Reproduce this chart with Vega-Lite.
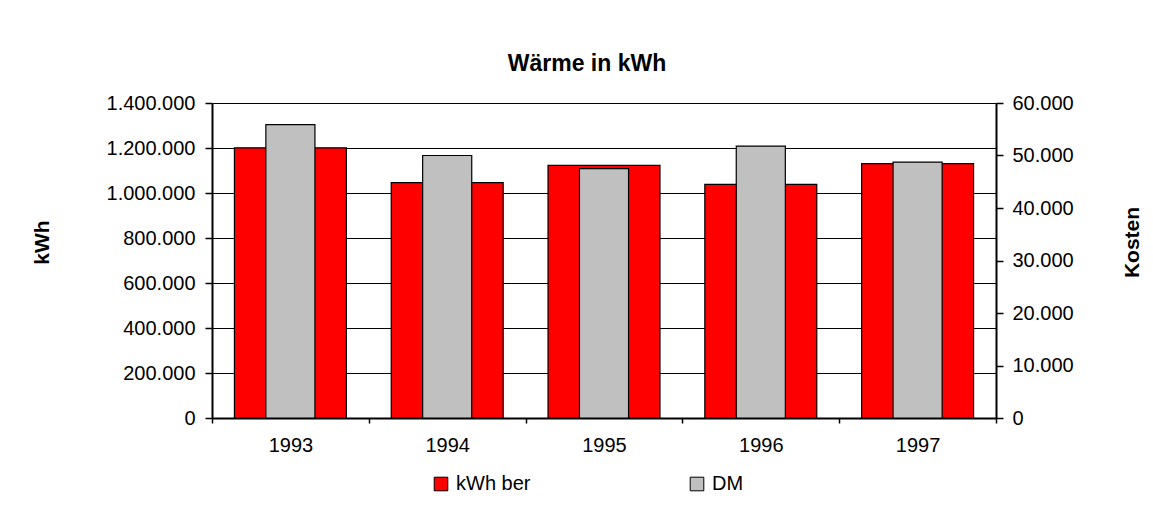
{
  "$schema": "https://vega.github.io/schema/vega-lite/v6.json",
  "width": 784,
  "height": 315,
  "autosize": "none",
  "padding": {"left": 212, "top": 103, "right": 157, "bottom": 96},
  "background": "white",
  "config": {
    "locale": {"number": {"decimal": ",", "thousands": ".", "grouping": [3], "currency": ["", ""]}},
    "font": "Liberation Sans",
    "view": {"stroke": null},
    "axis": {
      "labelFont": "Liberation Sans", "labelFontSize": 20, "labelColor": "#000",
      "titleFont": "Liberation Sans", "titleFontSize": 21, "titleFontWeight": "bold", "titleColor": "#000",
      "domainColor": "#000", "domainWidth": 2, "tickColor": "#000", "tickWidth": 1.5,
      "gridColor": "#000", "gridOpacity": 1, "gridWidth": 1
    }
  },
  "title": {
    "text": "Wärme in kWh", "font": "Liberation Sans", "fontSize": 23, "fontWeight": "bold",
    "color": "#000", "anchor": "middle", "dx": -17, "offset": 17
  },
  "data": {
    "values": [
      {"year": "1993", "series": "kWh ber", "value": 1201000},
      {"year": "1994", "series": "kWh ber", "value": 1046000},
      {"year": "1995", "series": "kWh ber", "value": 1123000},
      {"year": "1996", "series": "kWh ber", "value": 1038500},
      {"year": "1997", "series": "kWh ber", "value": 1130500},
      {"year": "1993", "series": "DM", "value": 55900},
      {"year": "1994", "series": "DM", "value": 50000},
      {"year": "1995", "series": "DM", "value": 47500},
      {"year": "1996", "series": "DM", "value": 51800},
      {"year": "1997", "series": "DM", "value": 48750}
    ]
  },
  "encoding": {
    "x": {
      "field": "year", "type": "ordinal",
      "scale": {"paddingInner": 0, "paddingOuter": 0},
      "axis": {"title": null, "labelAngle": 0, "tickBand": "extent", "tickSize": 5, "labelPadding": 12}
    },
    "color": {
      "field": "series", "type": "nominal",
      "scale": {"domain": ["kWh ber", "DM"], "range": ["#FF0000", "#C0C0C0"]},
      "legend": {
        "title": null, "orient": "none", "direction": "horizontal", "legendX": 219, "legendY": 371,
        "symbolType": "square", "symbolSize": 185, "symbolStrokeColor": "#000", "symbolStrokeWidth": 1,
        "labelFont": "Liberation Sans", "labelFontSize": 20, "labelColor": "#000", "labelOffset": 5,
        "columnPadding": 156, "symbolOpacity": 1
      }
    }
  },
  "layer": [
    {
      "transform": [{"filter": "datum.series === 'kWh ber'"}],
      "mark": {"type": "bar", "width": {"band": 0.714}, "stroke": "#000", "strokeWidth": 1.2},
      "encoding": {
        "y": {
          "field": "value", "type": "quantitative",
          "scale": {"domain": [0, 1400000], "nice": false},
          "axis": {
            "title": "kWh", "values": [0, 200000, 400000, 600000, 800000, 1000000, 1200000, 1400000],
            "format": ",.0f", "grid": true, "tickSize": 7, "labelPadding": 10,
            "titleAngle": 270, "titleX": -170, "titleY": 139, "titleAlign": "center", "titleBaseline": "middle"
          }
        }
      }
    },
    {
      "transform": [{"filter": "datum.series === 'DM'"}],
      "mark": {"type": "bar", "width": {"band": 0.313}, "stroke": "#000", "strokeWidth": 1.2},
      "encoding": {
        "y": {
          "field": "value", "type": "quantitative",
          "scale": {"domain": [0, 60000], "nice": false},
          "axis": {
            "orient": "right", "title": "Kosten", "values": [0, 10000, 20000, 30000, 40000, 50000, 60000],
            "format": ",.0f", "grid": false, "tickSize": 7, "labelPadding": 9,
            "titleAngle": 270, "titleX": 136, "titleY": 139, "titleAlign": "center", "titleBaseline": "middle"
          }
        }
      }
    }
  ],
  "resolve": {"scale": {"y": "independent"}}
}
